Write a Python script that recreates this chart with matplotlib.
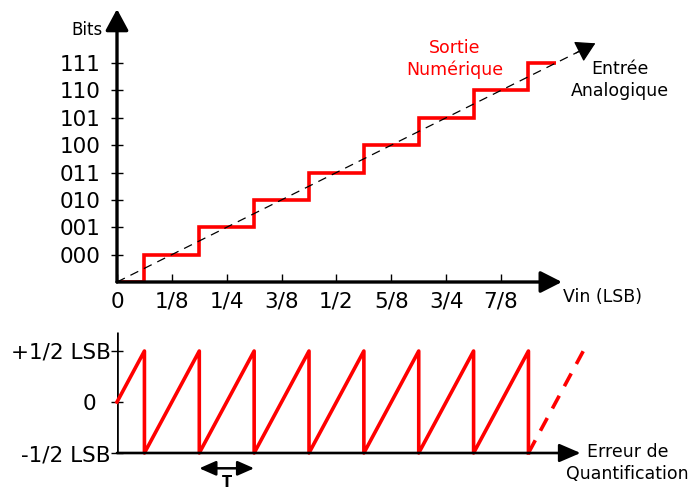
import matplotlib.pyplot as plt

# top chart: quantizer transfer function
x_pos = [0, 1, 2, 3, 4, 5, 6, 7]
x_labels = ['0', '1/8', '1/4', '3/8', '1/2', '5/8', '3/4', '7/8']
code_pos = [1, 2, 3, 4, 5, 6, 7, 8]
code_labels = ['000', '001', '010', '011', '100', '101', '110', '111']
step_edges = [0, 0.5, 1.5, 2.5, 3.5, 4.5, 5.5, 6.5, 7.5, 8.0]
step_levels = [0, 1, 2, 3, 4, 5, 6, 7, 8]
analog_end = 8.72

# bottom chart: quantization error
err_x = [0, 0.5, 0.5, 1.5, 1.5, 2.5, 2.5, 3.5, 3.5, 4.5, 4.5, 5.5, 5.5, 6.5, 6.5, 7.5, 7.5]
err_y = [0, 0.5, -0.5, 0.5, -0.5, 0.5, -0.5, 0.5, -0.5, 0.5, -0.5, 0.5, -0.5, 0.5, -0.5, 0.5, -0.5]
err_next_x = [7.5, 8.5]
err_next_y = [-0.5, 0.5]
err_pos = [-0.5, 0, 0.5]
err_labels = ['-1/2 LSB', '0  ', '+1/2 LSB']
period = [1.5, 2.5]

W, H = 691, 490
sx = 54.86   # px per x unit
sy = 27.375  # px per code

fig = plt.figure(figsize=(W / 100, H / 100), dpi=100)

ax1 = fig.add_axes([117 / W, (H - 282) / H, 9 * sx / W, 10 * sy / H])
ax1.set_xlim(0, 9)
ax1.set_ylim(0, 10)
for s in ax1.spines.values():
    s.set_visible(False)

# axes with arrows
ax1.annotate('', xy=(8.11, 0), xytext=(0, 0),
             arrowprops=dict(arrowstyle='-|>,head_length=0.65,head_width=0.33',
                             mutation_scale=20, lw=2.4, color='black',
                             shrinkA=0, shrinkB=0))
ax1.annotate('', xy=(0, 9.97), xytext=(0, 0),
             arrowprops=dict(arrowstyle='-|>,head_length=0.65,head_width=0.35',
                             mutation_scale=20, lw=2.4, color='black',
                             shrinkA=0, shrinkB=0))

ax1.set_xticks(x_pos, x_labels, fontsize=15.5)
ax1.set_yticks(code_pos, code_labels, fontsize=15.5)
ax1.tick_params(axis='x', direction='in', length=6, width=1, pad=7)
ax1.tick_params(axis='y', direction='inout', length=8, width=1, pad=8)

# analog input (dashed) and digital output (staircase)
ax1.plot([0, analog_end - 0.3], [0, analog_end - 0.3], color='black', lw=0.9,
         dashes=(7, 5))
ax1.annotate('', xy=(analog_end, analog_end), xytext=(analog_end - 0.35, analog_end - 0.35),
             arrowprops=dict(arrowstyle='-|>,head_length=0.6,head_width=0.35',
                             mutation_scale=20, lw=0.9, color='black',
                             shrinkA=0, shrinkB=0))
ax1.stairs(step_levels, step_edges, baseline=None, color='red', lw=2.6)

ax1.text(-0.27, 9.22, 'Bits', ha='right', va='center', fontsize=12)
ax1.text(6.16, 8.15, 'Sortie\nNumérique', ha='center', va='center',
         color='red', fontsize=12.5, linespacing=1.25)
ax1.text(9.17, 7.38, 'Entrée\nAnalogique', ha='center', va='center',
         fontsize=12.5, linespacing=1.25)
ax1.text(8.13, -0.55, 'Vin (LSB)', ha='left', va='center', fontsize=12.5)

# bottom chart
ax2 = fig.add_axes([117 / W, (H - 453) / H, 9 * sx / W, 1.2 * 102 / H])
ax2.set_xlim(0, 9)
ax2.set_ylim(-0.5, 0.7)
for s in ax2.spines.values():
    s.set_visible(False)

ax2.annotate('', xy=(8.45, -0.5), xytext=(0, -0.5),
             arrowprops=dict(arrowstyle='-|>,head_length=0.65,head_width=0.28',
                             mutation_scale=20, lw=1.9, color='black',
                             shrinkA=0, shrinkB=0), annotation_clip=False)
ax2.plot([0, 0], [-0.5, 0.69], color='black', lw=1.9, solid_capstyle='butt')

ax2.set_xticks([])
ax2.set_yticks(err_pos, err_labels, fontsize=15.5)
ax2.tick_params(axis='y', direction='inout', length=9, width=1, pad=0)

ax2.plot(err_x, err_y, color='red', lw=2.6, clip_on=False)
ax2.plot(err_next_x, err_next_y, color='red', lw=2.6, dashes=(4, 3), clip_on=False)

ax2.annotate('', xy=(period[0], -0.65), xytext=(period[1], -0.65),
             arrowprops=dict(arrowstyle='<|-|>,head_length=0.5,head_width=0.22',
                             mutation_scale=20, lw=1.8, color='black',
                             shrinkA=0, shrinkB=0), annotation_clip=False)
ax2.text((period[0] + period[1]) / 2, -0.715, 'T', ha='center', va='top',
         fontsize=10.5, fontweight='bold')
ax2.text(9.31, -0.6, 'Erreur de\nQuantification', ha='center', va='center',
         fontsize=12.5, linespacing=1.25)

fig.savefig('out.png', dpi=100)
